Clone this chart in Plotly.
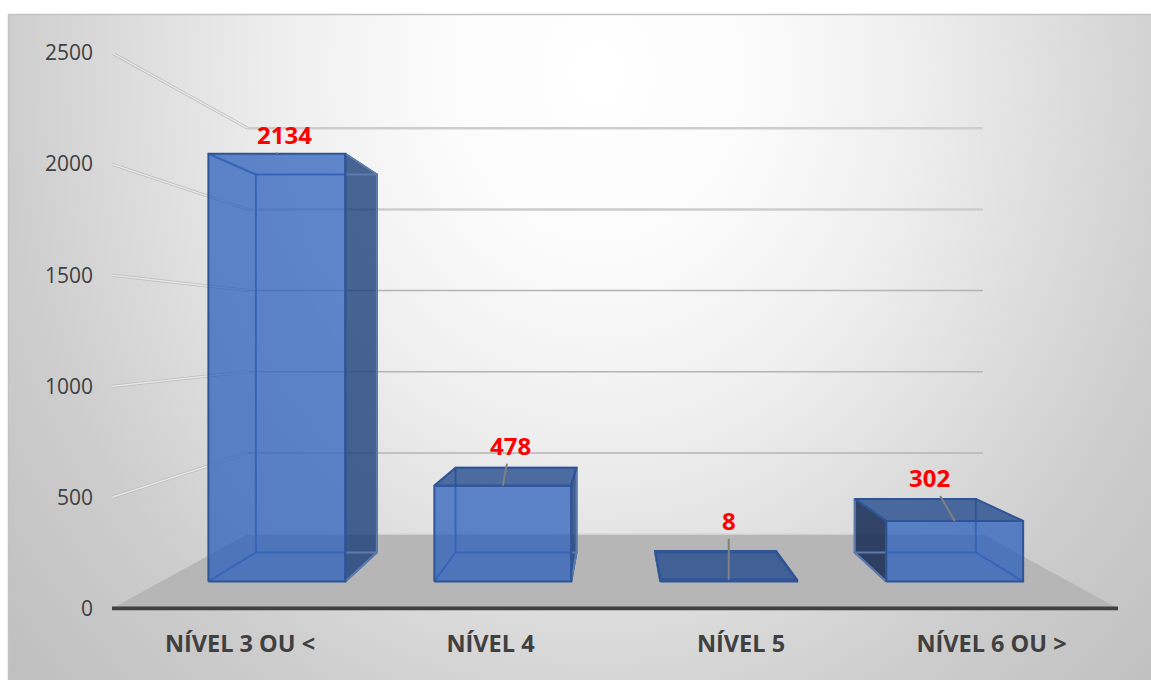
import base64
import plotly.graph_objects as go

categories = ["NÍVEL 3 OU <", "NÍVEL 4", "NÍVEL 5", "NÍVEL 6 OU >"]
values = [2134, 478, 8, 302]
value_ticks = [0, 500, 1000, 1500, 2000, 2500]

W, H = 1151, 680
FONT = "Open Sans"

# perspective model of the 3-D scene, in axis units
VX, VY = 1.501, 1243.0     # vanishing point
K_WALL = 0.7306            # depth of the back wall
K_FRONT, K_BACK = 0.902, 0.797   # depth of the front and back of a bar
HALF = 0.303               # half a bar width
X_MIN, X_MAX = -0.511, 3.505


def proj(x, y, k):
    return VX + (x - VX) * k, VY + (y - VY) * k


def path(points):
    xs = [p[0] for p in points]
    ys = [p[1] for p in points]
    return xs, ys


fig = go.Figure()


def poly(points, fill=None, line=None, width=2):
    xs, ys = path(points + [points[0]] if fill else points)
    fig.add_trace(go.Scatter(
        x=xs, y=ys, mode="lines", fill="toself" if fill else None,
        fillcolor=fill, line=dict(color=line or "rgba(0,0,0,0)", width=width),
        hoverinfo="skip", showlegend=False, cliponaxis=False))


# floor
poly([proj(X_MIN, 0, 1), proj(X_MAX, 0, 1), proj(X_MAX, 0, K_WALL), proj(X_MIN, 0, K_WALL)],
     fill="#b6b6b6")

# walls
for v in value_ticks:
    if v == 0:
        poly([proj(X_MIN, 0, K_WALL), proj(X_MAX, 0, K_WALL)], line="#d8d8d8", width=1.5)
        continue
    colour = "#cdcdcd" if v >= 2000 else "#b4b4b4"
    width = 2.5 if v >= 2000 else 1.5
    poly([proj(X_MIN, v, 1), proj(X_MIN, v, K_WALL)], line="#bcbcbc", width=3)
    poly([proj(X_MIN, v, 1), proj(X_MIN, v, K_WALL)], line="#e6e6e6", width=1.5)
    poly([proj(X_MIN, v, K_WALL), proj(X_MAX, v, K_WALL)], line=colour, width=width)

# front edge of the floor
poly([proj(X_MIN, 0, 1), proj(X_MAX, 0, 1)], line="#404040", width=4)

EDGE = "#2f5597"
INNER = "rgb(95,122,172)"
FRONT = "rgba(40,92,188,0.73)"
SIDE = "rgba(28,63,120,0.8)"
NEAR_SIDE = "rgba(30,50,90,0.9)"
TOP = "rgba(36,76,142,0.8)"

annotations_offsets = [(8, -19), (7.5, -40), (0, -59), (-25, -43)]

for i, v in enumerate(values):
    xl, xr = i - HALF, i + HALF
    # side face facing the vanishing point
    xs = xr if i < VX else xl
    poly([proj(xs, 0, K_FRONT), proj(xs, v, K_FRONT), proj(xs, v, K_BACK), proj(xs, 0, K_BACK)],
         fill=SIDE if i < VX else NEAR_SIDE, line=EDGE)
    # wire frame of the far faces
    poly([proj(xl, 0, K_BACK), proj(xr, 0, K_BACK), proj(xr, v, K_BACK), proj(xl, v, K_BACK),
          proj(xl, 0, K_BACK)], line=INNER)
    for xe in (xl, xr):
        poly([proj(xe, 0, K_FRONT), proj(xe, 0, K_BACK)], line=INNER)
    # top face, only visible from above the horizon
    if v < VY:
        poly([proj(xl, v, K_FRONT), proj(xr, v, K_FRONT), proj(xr, v, K_BACK), proj(xl, v, K_BACK)],
             fill=TOP, line=EDGE)
    else:
        for xe in (xl, xr):
            poly([proj(xe, v, K_FRONT), proj(xe, v, K_BACK)], line=INNER)
    # front face
    poly([proj(xl, 0, K_FRONT), proj(xr, 0, K_FRONT), proj(xr, v, K_FRONT), proj(xl, v, K_FRONT)],
         fill=FRONT, line=EDGE)

annotations = []
for i, v in enumerate(values):
    px, py = proj(i, v, K_FRONT)
    ox, oy = annotations_offsets[i]
    annotations.append(dict(
        x=px, y=py, xref="x", yref="y", ax=ox, ay=oy, text=str(v),
        showarrow=True, arrowhead=0, arrowwidth=2, arrowcolor="#808080",
        font=dict(family=FONT, size=24, color="#ff0000", weight="bold")))

svg = (
    f'<svg xmlns="http://www.w3.org/2000/svg" width="{W-8}" height="{H-14}">'
    '<defs><radialGradient id="g" gradientUnits="userSpaceOnUse" cx="0" cy="0" r="800" '
    'gradientTransform="translate(590,60) scale(1,1.15)">'
    '<stop offset="0" stop-color="#ffffff"/>'
    '<stop offset="0.2" stop-color="#fbfbfb"/>'
    '<stop offset="0.4" stop-color="#eeeeee"/>'
    '<stop offset="0.6" stop-color="#dbdbdb"/>'
    '<stop offset="0.75" stop-color="#cdcdcd"/>'
    '<stop offset="1" stop-color="#bebebe"/>'
    '</radialGradient></defs>'
    f'<rect width="{W-8}" height="{H-14}" fill="url(#g)"/></svg>'
)
href = "data:image/svg+xml;base64," + base64.b64encode(svg.encode()).decode()

fig.update_layout(
    width=W, height=H, autosize=False,
    margin=dict(l=0, r=0, t=0, b=0, pad=0),
    paper_bgcolor="white", plot_bgcolor="rgba(0,0,0,0)",
    showlegend=False,
    xaxis=dict(domain=[112 / W, 1118 / W], range=[X_MIN, X_MAX], automargin=False,
               tickvals=list(range(len(categories))), ticktext=categories,
               showgrid=False, zeroline=False, showline=False,
               ticks="", ticklabelstandoff=17,
               tickfont=dict(family=FONT, size=23.5, color="#404040", weight="bold")),
    yaxis=dict(domain=[(H - 610.5) / H, (H - 53) / H], range=[-9, 2500], automargin=False,
               tickvals=value_ticks, showgrid=False, zeroline=False, showline=False,
               ticks="", ticklabelstandoff=18,
               tickfont=dict(family=FONT, size=21, color="#404040")),
    annotations=annotations,
    images=[dict(source=href, xref="paper", yref="paper", x=8 / W, y=1 - 14 / H,
                 sizex=(W - 8) / W, sizey=(H - 14) / H, xanchor="left", yanchor="top",
                 sizing="stretch", layer="below")],
    shapes=[dict(type="rect", xref="paper", yref="paper", x0=8.5 / W, x1=1.01, y0=-0.01,
                 y1=1 - 14.5 / H, line=dict(color="#c2c2c2", width=1.5), fillcolor="rgba(0,0,0,0)")],
)

fig.write_html("out.html", config=dict(displayModeBar=False),
               post_script="document.body.style.margin='0';document.body.style.overflow='hidden';")
